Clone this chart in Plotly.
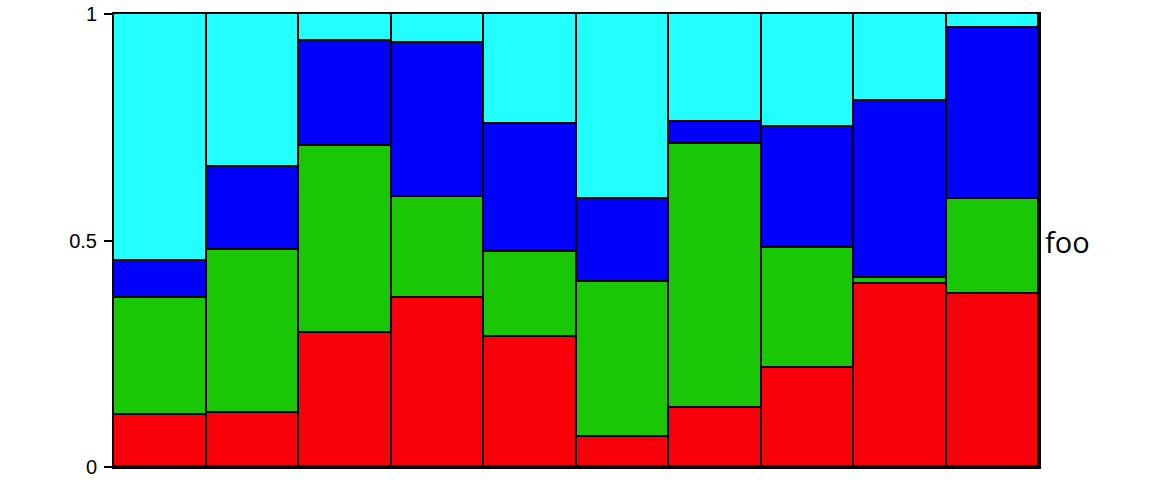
import plotly.graph_objects as go

categories = [1, 2, 3, 4, 5, 6, 7, 8, 9, 10]
red_vals = [0.115, 0.120, 0.296, 0.372, 0.287, 0.066, 0.130, 0.219, 0.404, 0.383]
green_vals = [0.259, 0.358, 0.413, 0.225, 0.187, 0.342, 0.584, 0.265, 0.014, 0.209]
blue_vals = [0.081, 0.184, 0.231, 0.339, 0.284, 0.184, 0.048, 0.266, 0.391, 0.377]
cyan_vals = [0.545, 0.338, 0.060, 0.064, 0.242, 0.408, 0.238, 0.250, 0.191, 0.031]
series = [
    ("red", red_vals, "#f9000a"),
    ("green", green_vals, "#19c705"),
    ("blue", blue_vals, "#0000ff"),
    ("cyan", cyan_vals, "#22ffff"),
]
y_tickvals = [0, 0.5, 1]
y_ticktext = ["0", "0.5", "1"]
side_label = "foo"

fig = go.Figure()
for name, vals, color in series:
    fig.add_trace(go.Bar(
        x=categories, y=vals, name=name,
        marker=dict(color=color, line=dict(color="black", width=1.8)),
        hoverinfo="skip",
    ))

fig.update_layout(
    barmode="stack", bargap=0, showlegend=False,
    width=1152, height=483, autosize=False,
    margin=dict(l=114, r=113, t=14, b=16, pad=0),
    paper_bgcolor="white", plot_bgcolor="white",
    font=dict(family="Liberation Sans, Arial, sans-serif", color="black"),
)
fig.update_xaxes(
    range=[0.5, 10.5], showticklabels=False, ticks="", showgrid=False,
    zeroline=False, showline=True, linecolor="black", linewidth=2, mirror=True,
    automargin=False,
)
fig.update_yaxes(
    range=[0, 1], tickvals=y_tickvals, ticktext=y_ticktext,
    ticks="outside", ticklen=8, tickwidth=2, tickcolor="black",
    ticklabelstandoff=3,
    tickfont=dict(size=20, family="Liberation Sans, Arial, sans-serif", color="black"),
    showgrid=False, zeroline=False, showline=True, linecolor="black",
    linewidth=2, mirror=True, automargin=False,
)
fig.add_annotation(
    text=side_label, xref="paper", yref="paper", x=1, y=0.497,
    xanchor="left", yanchor="middle", xshift=4, showarrow=False,
    font=dict(size=29, family="Open Sans, sans-serif", color="black"),
)
fig.write_html("out.html", config={"responsive": False})
